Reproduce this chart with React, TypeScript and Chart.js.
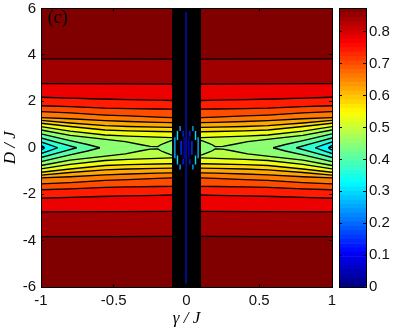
import React, { useEffect, useRef } from "react";
import { Chart, registerables } from "chart.js";

Chart.register(...registerables);

// Each contour: [gamma, D] along the upper half of the left panel (mirrored for the rest).
const level084 = [[-1, 3.83], [-0.5, 3.83], [-0.1, 3.82]];
const level080 = [[-1, 2.76], [-0.5, 2.75], [-0.1, 2.74]];
const level076 = [[-1, 2.175], [-0.8, 2.135], [-0.6, 2.1], [-0.4, 2.07], [-0.2, 2.05], [-0.1, 2.035]];
const level072 = [[-1, 1.81], [-0.8, 1.77], [-0.56, 1.705], [-0.4, 1.69], [-0.2, 1.67], [-0.1, 1.66]];
const level068 = [[-1, 1.555], [-0.8, 1.5], [-0.56, 1.41], [-0.4, 1.37], [-0.2, 1.32], [-0.1, 1.295]];
const level064 = [[-1, 1.295], [-0.8, 1.25], [-0.56, 1.165], [-0.4, 1.13], [-0.2, 1.095], [-0.1, 1.08]];
const level060 = [[-1, 1.18], [-0.8, 1.067], [-0.56, 0.95], [-0.4, 0.915], [-0.2, 0.89], [-0.1, 0.88]];
const level056 = [[-1, 1.055], [-0.8, 0.915], [-0.56, 0.765], [-0.4, 0.73], [-0.2, 0.7], [-0.1, 0.69]];
const level052 = [[-1, 0.91], [-0.8, 0.72], [-0.56, 0.55], [-0.4, 0.5], [-0.2, 0.46], [-0.1, 0.44]];
const level048 = [[-1, 0.765], [-0.8, 0.53], [-0.6, 0.39], [-0.42, 0.26], [-0.32, 0.14], [-0.25, 0.06], [-0.197, 0.05], [-0.177, 0.13], [-0.15, 0.2], [-0.11, 0.3], [-0.1, 0.32]];
const level044 = [[-1, 0.6], [-0.8, 0.31], [-0.68, 0.14], [-0.595, 0]];
const level040 = [[-1, 0.42], [-0.87, 0.2], [-0.755, 0]];
const level036 = [[-1, 0.25], [-0.94, 0.12], [-0.885, 0]];
const level032 = [[-1, 0.1], [-0.985, 0.05], [-0.975, 0]];

const contourLevels = [level084, level080, level076, level072, level068, level064, level060, level056, level052, level048, level044, level040, level036, level032];
const bandColors = ["#A00000", "#ED0000", "#FF1C00", "#FF4D00", "#FF7900", "#FFA800", "#FFD700", "#F0FF0F", "#B8FF47", "#8CFF73", "#5CFFA3", "#30FFCF", "#00FFFF", "#00E8FF"];
const topBandColor = "#800000";

// Small closed contours inside the central strip: gamma, D from, D to, colour
const stripGamma = [-0.08, -0.062, -0.062, -0.044, -0.044, -0.037, -0.023, -0.023, -0.016];
const stripFrom = [-0.45, 0.33, -0.72, 0.72, -0.94, -0.31, 0.48, -0.72, -0.45];
const stripTo = [0.45, 0.72, -0.33, 0.94, -0.72, 0.29, 0.72, -0.48, 0.45];
const stripColor = ["#00A8FF", "#00D8FF", "#00D8FF", "#00A0FF", "#00A0FF", "#0030FF", "#0020F0", "#0020F0", "#0000C8"];

const xTicks = [-1, -0.5, 0, 0.5, 1];
const yTicks = [-6, -4, -2, 0, 2, 4, 6];
const barTicks = [0, 0.1, 0.2, 0.3, 0.4, 0.5, 0.6, 0.7, 0.8];
const barMax = 0.873;
const panelNote = "(c)";
const notePosition = [-0.953, 5.6];

const tickFont = { family: "Liberation Sans", size: 15 };
const titleFont = { family: "Liberation Serif", size: 17, style: "italic" as const };

const jet = (i: number) => {
  const t = (i + 0.5) / 64;
  const f = (a: number) => Math.round(255 * Math.max(0, Math.min(1, Math.min(4 * t - a, -4 * t + a + 3))));
  return `rgb(${f(1.5)},${f(0.5)},${f(-0.5)})`;
};

const xy = (pts: number[][]) => pts.map(([x, y]) => ({ x, y }));
const pairDatasets = (pts: number[][], color: string, line: number) => {
  const neg = pts.map(([g, d]) => [g, -d]);
  const flip = (a: number[][]) => a.map(([g, d]) => [-g, d]).reverse();
  const base = { type: "scatter" as const, showLine: true, pointRadius: 0, borderColor: "#000", borderWidth: line, tension: 0 };
  return [
    { ...base, data: xy(pts), fill: "+1", backgroundColor: color },
    { ...base, data: xy(neg), fill: false },
    { ...base, data: xy(flip(pts)), fill: "+1", backgroundColor: color },
    { ...base, data: xy(flip(neg)), fill: false },
  ];
};

const axisBase = (extra: any) => ({
  border: { display: true, color: "#000", width: 1, z: 2 },
  grid: { drawOnChartArea: false, drawTicks: true, tickLength: -3, tickColor: "#000", z: 2 },
  ...extra,
});

const fitTo = (prop: "width" | "height", size: number) => (s: any) => {
  s[prop] = size;
  s.paddingTop = 0;
  s.paddingBottom = 0;
  s.paddingLeft = 0;
  s.paddingRight = 0;
};

export default function App() {
  const mainRef = useRef<HTMLCanvasElement>(null);
  const barRef = useRef<HTMLCanvasElement>(null);
  useEffect(() => {
    const datasets: any[] = [];
    // strip marks (top-most)
    stripGamma.forEach((g, i) => {
      [g, -g].forEach((gx) => {
        datasets.push({ type: "scatter", showLine: true, pointRadius: 0, borderColor: stripColor[i], borderWidth: 1.4, fill: false, data: [{ x: gx, y: stripFrom[i] }, { x: gx, y: stripTo[i] }] });
      });
    });
    datasets.push({ type: "scatter", showLine: true, pointRadius: 0, borderColor: "#0010B0", borderWidth: 1.6, fill: false, data: [{ x: -0.003, y: 5.85 }, { x: -0.003, y: -5.85 }] });
    // black strip
    datasets.push({ type: "scatter", showLine: true, pointRadius: 0, borderWidth: 0, borderColor: "#000", fill: "+1", backgroundColor: "#000", data: [{ x: -0.1, y: 6 }, { x: 0.1, y: 6 }] });
    datasets.push({ type: "scatter", showLine: true, pointRadius: 0, borderWidth: 0, borderColor: "#000", fill: false, data: [{ x: -0.1, y: -6 }, { x: 0.1, y: -6 }] });
    // bands, inner first so outer ones paint first
    for (let i = contourLevels.length - 1; i >= 0; i--) {
      datasets.push(...pairDatasets(contourLevels[i], bandColors[i], 1.3));
    }
    datasets.push({ type: "scatter", showLine: true, pointRadius: 0, borderWidth: 0, fill: "+1", backgroundColor: topBandColor, data: [{ x: -1, y: 6 }, { x: 1, y: 6 }] });
    datasets.push({ type: "scatter", showLine: true, pointRadius: 0, borderWidth: 0, fill: false, data: [{ x: -1, y: -6 }, { x: 1, y: -6 }] });

    const notePlugin = {
      id: "note",
      afterDraw(c: any) {
        const { ctx, scales } = c;
        ctx.save();
        ctx.font = "18px 'Liberation Serif'";
        ctx.fillStyle = "#000";
        ctx.textBaseline = "middle";
        ctx.fillText(panelNote, scales.x.getPixelForValue(notePosition[0]), scales.y.getPixelForValue(notePosition[1]));
        ctx.restore();
      },
    };

    const main = new Chart(mainRef.current!, {
      type: "scatter",
      data: { datasets },
      plugins: [notePlugin],
      options: {
        responsive: false,
        animation: false,
        devicePixelRatio: 1,
        layout: { padding: { left: 0, top: 8.5, right: 62, bottom: 0 } },
        plugins: { legend: { display: false }, tooltip: { enabled: false }, filler: { drawTime: "beforeDatasetsDraw", propagate: false } },
        scales: {
          x: axisBase({
            type: "linear", position: "bottom", min: -1, max: 1,
            afterBuildTicks: (s: any) => { s.ticks = xTicks.map((value) => ({ value })); },
            afterFit: fitTo("height", 46),
            ticks: { font: tickFont, color: "#111", padding: 8, maxRotation: 0, autoSkip: false, callback: (v: any) => String(v) },
            title: { display: true, text: "γ / J", font: titleFont, color: "#000", padding: { top: 0, bottom: 4 } },
          }),
          y: axisBase({
            type: "linear", position: "left", min: -6, max: 6,
            afterBuildTicks: (s: any) => { s.ticks = yTicks.map((value) => ({ value })); },
            afterFit: fitTo("width", 41),
            ticks: { font: tickFont, color: "#111", padding: 8, autoSkip: false, callback: (v: any) => String(v) },
            title: { display: true, text: "D / J", font: titleFont, color: "#000", padding: { top: 0, bottom: 0 } },
          }),
          x2: axisBase({
            type: "linear", position: "top", min: -1, max: 1,
            afterBuildTicks: (s: any) => { s.ticks = xTicks.map((value) => ({ value })); },
            afterFit: fitTo("height", 0),
            ticks: { display: false },
          }),
          y2: axisBase({
            type: "linear", position: "right", min: -6, max: 6,
            afterBuildTicks: (s: any) => { s.ticks = yTicks.map((value) => ({ value })); },
            afterFit: fitTo("width", 0),
            ticks: { display: false },
          }),
        },
      } as any,
    });

    const band = barMax / 64;
    const bottomSeam = {
      id: "bottomSeam",
      afterDraw(c: any) {
        const { ctx, chartArea: a } = c;
        ctx.save();
        ctx.fillStyle = jet(0);
        ctx.fillRect(a.left + 1, a.bottom - 3, a.right - a.left - 2, 3);
        ctx.restore();
      },
    };
    const bar = new Chart(barRef.current!, {
      type: "bar",
      data: {
        labels: ["c"],
        datasets: Array.from({ length: 64 }, (_, i) => ({
          data: [[i * band, (i + 1) * band]],
          backgroundColor: jet(i),
          borderWidth: 0,
          barPercentage: 1,
          categoryPercentage: 1,
          grouped: false,
        })),
      },
      plugins: [bottomSeam],
      options: {
        responsive: false,
        animation: false,
        devicePixelRatio: 1,
        layout: { padding: { left: 339, top: 8.5, right: 0, bottom: 0 } },
        plugins: { legend: { display: false }, tooltip: { enabled: false } },
        scales: {
          x: { display: true, ticks: { display: false }, grid: { display: false }, border: { display: true, color: "#000", z: 2 }, afterFit: fitTo("height", 46) },
          x2: { position: "top", display: true, ticks: { display: false }, grid: { display: false }, border: { display: true, color: "#000", z: 2 }, afterFit: fitTo("height", 0) },
          y: axisBase({
            type: "linear", position: "right", min: 0, max: barMax,
            afterBuildTicks: (s: any) => { s.ticks = barTicks.map((value) => ({ value })); },
            afterFit: fitTo("width", 28),
            ticks: { font: tickFont, color: "#111", padding: 6, autoSkip: false, callback: (v: any) => String(v) },
          }),
          y3: axisBase({
            type: "linear", position: "left", min: 0, max: barMax,
            afterBuildTicks: (s: any) => { s.ticks = barTicks.map((value) => ({ value })); },
            afterFit: fitTo("width", 0),
            ticks: { display: false },
          }),
        },
      } as any,
    });
    return () => {
      main.destroy();
      bar.destroy();
    };
  }, []);
  const style: React.CSSProperties = { position: "absolute", left: 0, top: 0, display: "block" };
  return (
    <div>
      <canvas ref={mainRef} width={394} height={333} style={style} />
      <canvas ref={barRef} width={394} height={333} style={style} />
    </div>
  );
}
